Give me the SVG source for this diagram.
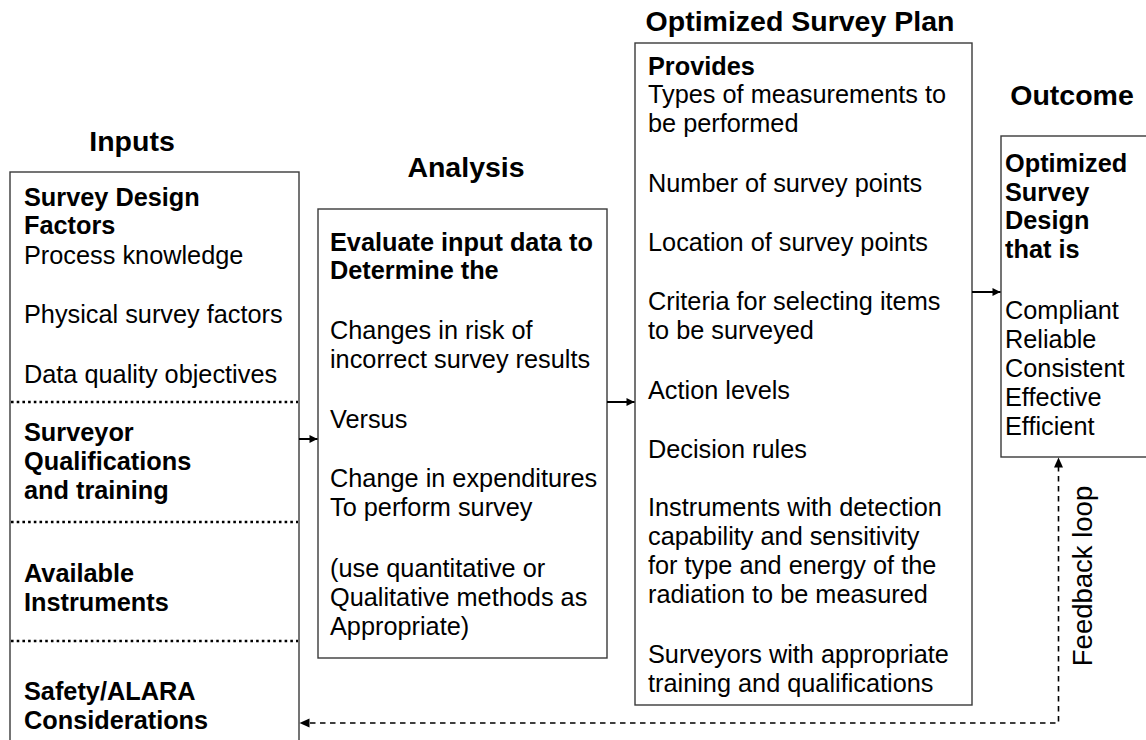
<svg xmlns="http://www.w3.org/2000/svg" width="1146" height="740" viewBox="0 0 1146 740">
  <defs>
    <style>
      .box { fill: #ffffff; stroke: #3a3a3a; stroke-width: 1.4; }
      .title { font-family: "Liberation Sans", Arial, sans-serif; font-size: 28.5px; font-weight: bold; fill: #000; text-anchor: middle; }
      .body { font-family: "Liberation Sans", Arial, sans-serif; font-size: 25.3px; fill: #000; }
      .bold { font-weight: bold; }
      .sep { stroke: #000; stroke-width: 2.6; stroke-dasharray: 2.6 3.1; fill: none; }
      .flow { stroke: #000; stroke-width: 2; fill: none; }
      .loop { stroke: #000; stroke-width: 1.6; stroke-dasharray: 5.5 4.5; fill: none; }
    </style>
    <marker id="head" viewBox="0 0 10 10" refX="10" refY="5" markerWidth="10" markerHeight="8" markerUnits="userSpaceOnUse" orient="auto">
      <path d="M0,0 L10,5 L0,10 Z" fill="#000"/>
    </marker>
  </defs>

  <rect width="1146" height="740" fill="#ffffff"/>

  <!-- Column headings -->
  <text class="title" x="132" y="151">Inputs</text>
  <text class="title" x="466" y="177">Analysis</text>
  <text class="title" x="800" y="31">Optimized Survey Plan</text>
  <text class="title" x="1072" y="105">Outcome</text>

  <!-- Inputs column -->
  <g id="inputs">
    <rect class="box" x="10" y="172" width="289" height="580"/>
    <line class="sep" x1="11" y1="402" x2="298" y2="402"/>
    <line class="sep" x1="11" y1="522" x2="298" y2="522"/>
    <line class="sep" x1="11" y1="641" x2="298" y2="641"/>
    <text class="body bold" x="24" y="206">Survey Design</text>
    <text class="body bold" x="24" y="234">Factors</text>
    <text class="body" x="24" y="264">Process knowledge</text>
    <text class="body" x="24" y="323">Physical survey factors</text>
    <text class="body" x="24" y="383">Data quality objectives</text>
    <text class="body bold" x="24" y="441">Surveyor</text>
    <text class="body bold" x="24" y="470">Qualifications</text>
    <text class="body bold" x="24" y="499">and training</text>
    <text class="body bold" x="24" y="582">Available</text>
    <text class="body bold" x="24" y="611">Instruments</text>
    <text class="body bold" x="24" y="700">Safety/ALARA</text>
    <text class="body bold" x="24" y="729">Considerations</text>
  </g>

  <!-- Analysis column -->
  <g id="analysis">
    <rect class="box" x="318" y="209" width="289" height="449"/>
    <text class="body bold" x="330" y="251">Evaluate input data to</text>
    <text class="body bold" x="330" y="279">Determine the</text>
    <text class="body" x="330" y="339">Changes in risk of</text>
    <text class="body" x="330" y="368">incorrect survey results</text>
    <text class="body" x="330" y="428">Versus</text>
    <text class="body" x="330" y="487">Change in expenditures</text>
    <text class="body" x="330" y="516">To perform survey</text>
    <text class="body" x="330" y="577">(use quantitative or</text>
    <text class="body" x="330" y="606">Qualitative methods as</text>
    <text class="body" x="330" y="635">Appropriate)</text>
  </g>

  <!-- Survey plan column -->
  <g id="plan">
    <rect class="box" x="635" y="43" width="337" height="662"/>
    <text class="body bold" x="648" y="75">Provides</text>
    <text class="body" x="648" y="103">Types of measurements to</text>
    <text class="body" x="648" y="132">be performed</text>
    <text class="body" x="648" y="192">Number of survey points</text>
    <text class="body" x="648" y="251">Location of survey points</text>
    <text class="body" x="648" y="310">Criteria for selecting items</text>
    <text class="body" x="648" y="339">to be surveyed</text>
    <text class="body" x="648" y="399">Action levels</text>
    <text class="body" x="648" y="458">Decision rules</text>
    <text class="body" x="648" y="516">Instruments with detection</text>
    <text class="body" x="648" y="545">capability and sensitivity</text>
    <text class="body" x="648" y="574">for type and energy of the</text>
    <text class="body" x="648" y="603">radiation to be measured</text>
    <text class="body" x="648" y="663">Surveyors with appropriate</text>
    <text class="body" x="648" y="692">training and qualifications</text>
  </g>

  <!-- Outcome column -->
  <g id="outcome">
    <rect class="box" x="1001" y="136" width="150" height="321"/>
    <text class="body bold" x="1005" y="172">Optimized</text>
    <text class="body bold" x="1005" y="201">Survey</text>
    <text class="body bold" x="1005" y="229">Design</text>
    <text class="body bold" x="1005" y="258">that is</text>
    <text class="body" x="1005" y="319">Compliant</text>
    <text class="body" x="1005" y="348">Reliable</text>
    <text class="body" x="1005" y="377">Consistent</text>
    <text class="body" x="1005" y="406">Effective</text>
    <text class="body" x="1005" y="435">Efficient</text>
  </g>

  <!-- Connectors -->
  <g id="connectors">
    <line class="flow" x1="299" y1="439" x2="317.5" y2="439" marker-end="url(#head)"/>
    <line class="flow" x1="607" y1="402" x2="634.5" y2="402" marker-end="url(#head)"/>
    <line class="flow" x1="972" y1="292" x2="1000.5" y2="292" marker-end="url(#head)"/>
    <polyline class="loop" points="1058.5,466 1058.5,723 308,723"/>
    <path d="M1058.5,457.5 L1063,467.5 L1054,467.5 Z" fill="#000"/>
    <path d="M299.5,723 L309.5,718.5 L309.5,727.5 Z" fill="#000"/>
    <text class="body" style="font-size:27.5px" transform="translate(1092,576) rotate(-90)" text-anchor="middle">Feedback loop</text>
  </g>
</svg>
